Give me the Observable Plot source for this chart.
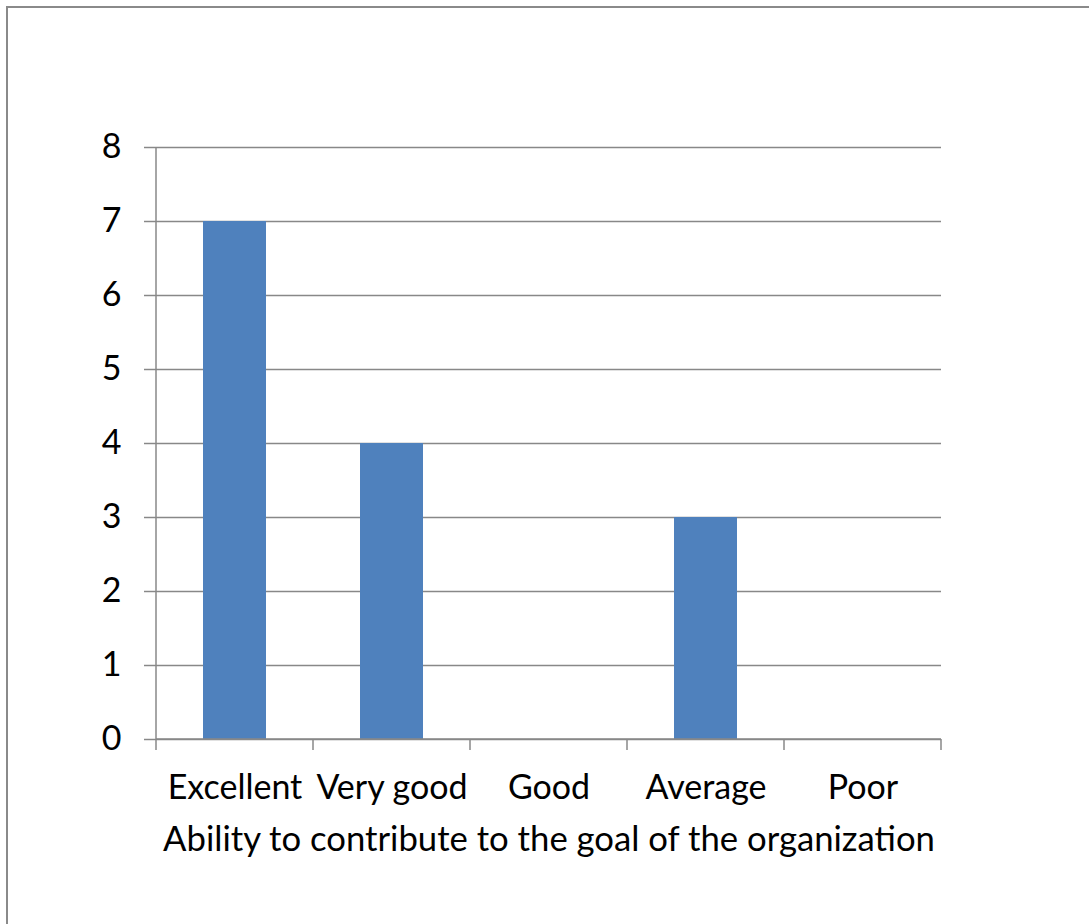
<!DOCTYPE html>
<html>
<head>
<meta charset="utf-8">
<script src="https://cdn.jsdelivr.net/npm/d3@7"></script>
<script src="https://cdn.jsdelivr.net/npm/@observablehq/plot@0.6"></script>
<style>
  html, body { margin: 0; padding: 0; background: #fff; }
  #wrap { position: relative; width: 1089px; height: 924px; overflow: hidden; }
  #border { position: absolute; left: 6px; top: 6px; right: -10px; bottom: -10px;
            border-left: 2px solid #8a8a8a; border-top: 2px solid #8a8a8a; }
  #chart { position: absolute; left: 0; top: 0; }
</style>
</head>
<body>
<div id="wrap"><div id="border"></div><div id="chart"></div></div>
<script>
const categories = ["Excellent", "Very good", "Good", "Average", "Poor"];
const counts = [7, 4, 0, 3, 0];
const yTicks = [0, 1, 2, 3, 4, 5, 6, 7, 8];
const xTitle = "Ability to contribute to the goal of the organization";

const data = categories.map((c, i) => ({category: c, count: counts[i]}));

function axisLines(index, scales, values, dims) {
  const {width, marginLeft, marginRight} = dims;
  const y0 = scales.y(yTicks[0]);
  const yTop = scales.y(yTicks[yTicks.length - 1]);
  const g = d3.create("svg:g").attr("stroke", "#888").attr("stroke-width", 1.5).attr("fill", "none");
  g.append("line").attr("x1", marginLeft).attr("x2", marginLeft).attr("y1", yTop).attr("y2", y0);
  g.append("line").attr("x1", marginLeft).attr("x2", width - marginRight).attr("y1", y0).attr("y2", y0);
  const n = categories.length;
  const step = (width - marginLeft - marginRight) / n;
  for (let k = 0; k <= n; k++) {
    const x = marginLeft + k * step;
    g.append("line").attr("x1", x).attr("x2", x).attr("y1", y0).attr("y2", y0 + 11);
  }
  return g.node();
}

const FS = 34;
const plot = Plot.plot({
  width: 1089,
  height: 924,
  marginLeft: 156,
  marginRight: 148,
  marginTop: 147,
  marginBottom: 185,
  style: {fontFamily: "Lato, 'Open Sans', sans-serif", fontSize: FS + "px", color: "#000", background: "transparent"},
  x: {domain: categories, paddingInner: 0.6, paddingOuter: 0.3},
  y: {domain: [0, 8]},
  marks: [
    Plot.gridY(yTicks, {stroke: "#888", strokeOpacity: 1, strokeWidth: 1.5}),
    Plot.barY(data, {x: "category", y: "count", fill: "#4f81bd"}),
    Plot.axisY(yTicks, {tickSize: 12, tickPadding: 23, tickFormat: "d", stroke: "#888", strokeWidth: 1.5, label: null, fontSize: FS}),
    Plot.axisX({tickSize: 0, tickPadding: 35, label: null, fontSize: FS}),
    axisLines,
    Plot.text([xTitle], {text: d => d, frameAnchor: "bottom", dy: 111, lineAnchor: "bottom", fontSize: 34.7, fill: "#000"})
  ]
});
document.getElementById("chart").appendChild(plot);
</script>
</body>
</html>
